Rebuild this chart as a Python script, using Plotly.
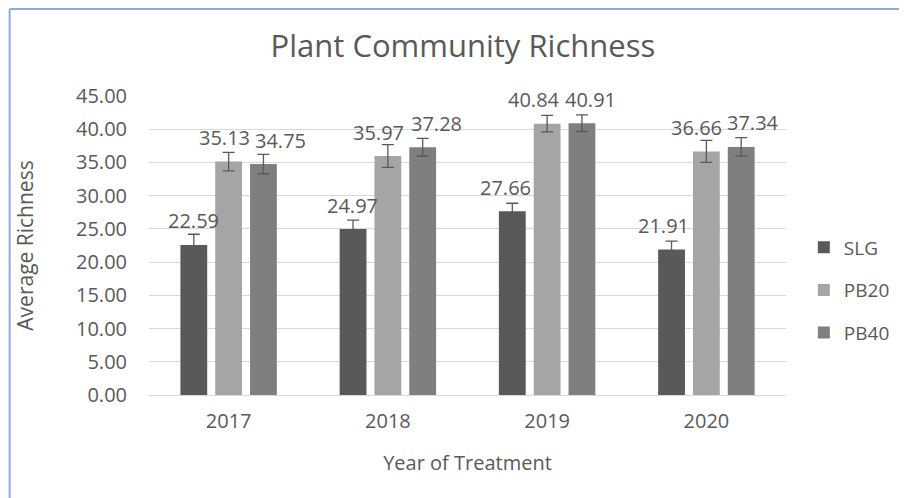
import plotly.graph_objects as go

# Values
years = ["2017", "2018", "2019", "2020"]
series_names = ["SLG", "PB20", "PB40"]
slg = [22.59, 24.97, 27.66, 21.91]
pb20 = [35.13, 35.97, 40.84, 36.66]
pb40 = [34.75, 37.28, 40.91, 37.34]
slg_err = [1.6, 1.35, 1.2, 1.25]
pb20_err = [1.4, 1.7, 1.25, 1.65]
pb40_err = [1.45, 1.35, 1.25, 1.4]
y_ticks = [0, 5, 10, 15, 20, 25, 30, 35, 40, 45]

colors = ["#595959", "#A5A5A5", "#7F7F7F"]
text_color = "#595959"
font_family = "Open Sans, Noto Sans, sans-serif"

# pixel geometry of each group (bar slot 35 px) and the nudges Excel gave
# the data labels so that neighbours do not collide
bar_offsets = [-35, 0, 35]
label_nudge = [
    [0, 0, -6.5, -7.5],
    [-4.5, -9.5, -13, -9.5],
    [16.5, 14, 8, 12],
]

fig = go.Figure()
all_values = [slg, pb20, pb40]
all_errors = [slg_err, pb20_err, pb40_err]

for name, vals, errs, col in zip(series_names, all_values, all_errors, colors):
    fig.add_trace(go.Bar(
        x=years,
        y=vals,
        name=name,
        legendgroup=name,
        marker=dict(color=col, line=dict(width=0)),
        error_y=dict(type="data", array=errs, color="#595959",
                     thickness=1.3, width=6),
        hoverinfo="skip",
    ))

# data labels above the bars (x given as category index)
for vals, dx, nudges in zip(all_values, bar_offsets, label_nudge):
    for i, v in enumerate(vals):
        fig.add_annotation(
            x=i, y=v, text=f"{v:.2f}", showarrow=False,
            xshift=dx + nudges[i], yshift=24, yanchor="middle",
            font=dict(size=20, color=text_color, family=font_family),
        )

# light blue frame around the chart (top and left edges visible)
frame = dict(color="#8EAADB", width=2)
fig.add_shape(type="line", xref="paper", yref="paper",
              x0=-0.2188, x1=-0.2188, y0=-0.4, y1=1.291, line=frame)
fig.add_shape(type="line", xref="paper", yref="paper",
              x0=-0.2188, x1=1.3, y0=1.291, y1=1.291, line=frame)

fig.update_layout(
    width=899, height=490,
    margin=dict(l=141, r=118, t=88, b=103),
    paper_bgcolor="white", plot_bgcolor="white",
    barmode="group", bargap=0.344, bargroupgap=0.23,
    title=dict(text="Plant Community Richness", x=0.506, xanchor="center",
               xref="container", y=0.922, yanchor="middle",
               font=dict(size=31, color=text_color, family=font_family)),
    font=dict(family=font_family, color=text_color, size=20),
    legend=dict(x=1.028, y=0.35, xanchor="left", yanchor="middle",
                font=dict(size=19, color=text_color),
                tracegroupgap=15, itemsizing="constant"),
    xaxis=dict(
        type="category", automargin=False, range=[-0.5, len(years) - 0.5],
        title=dict(text="Year of Treatment", font=dict(size=20), standoff=22),
        tickfont=dict(size=20), showline=True, linecolor="#D9D9D9",
        linewidth=1, ticks="", ticklabelstandoff=8,
    ),
    yaxis=dict(
        automargin=False,
        title=dict(text="Average Richness", font=dict(size=21), standoff=36),
        range=[0, 45], tickvals=y_ticks,
        ticktext=[f"{t:.2f}" for t in y_ticks],
        tickfont=dict(size=20), gridcolor="#D9D9D9", gridwidth=1,
        zeroline=False, showline=False, ticks="", ticklabelstandoff=21,
    ),
)

fig.write_html("out.html")
